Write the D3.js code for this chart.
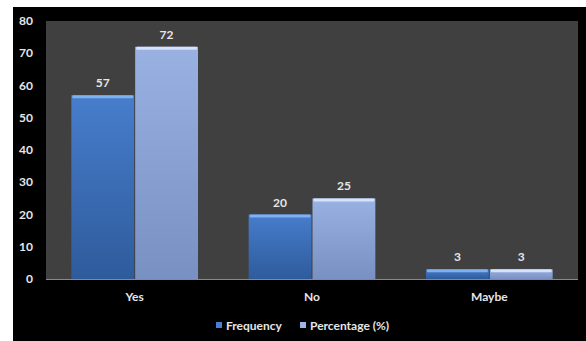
<!DOCTYPE html>
<html>
<head>
<meta charset="utf-8">
<script src="https://cdn.jsdelivr.net/npm/d3@7"></script>
<style>
  html, body { margin: 0; padding: 0; background: #ffffff; }
  svg { display: block; }
  text { font-family: Lato, "Open Sans", sans-serif; font-weight: bold; fill: #e6e6e6; }
</style>
</head>
<body>
<svg id="chart" width="586" height="341"></svg>
<script>
// Survey responses
const categories = ["Yes", "No", "Maybe"];
const seriesNames = ["Frequency", "Percentage (%)"];
const frequency = [57, 20, 3];
const percentage = [72, 25, 3];
const yTicks = [0, 10, 20, 30, 40, 50, 60, 70, 80];

const rows = categories.map((c, i) => ({ category: c, values: [frequency[i], percentage[i]] }));

const svg = d3.select("#chart");
const W = 586, H = 341;

// outer black frame
svg.append("rect").attr("x", 13).attr("y", 7).attr("width", W - 13).attr("height", H - 7).attr("fill", "#000");

const plot = { left: 46, right: 578, top: 21, bottom: 279 };

const x0 = d3.scaleBand().domain(categories).range([plot.left, plot.right]).paddingInner(0.28).paddingOuter(0.14);
const x1 = d3.scaleBand().domain(seriesNames).range([0, x0.bandwidth()]).padding(0);
const y = d3.scaleLinear().domain([0, 80]).range([plot.bottom, plot.top]);

const defs = svg.append("defs");
const grads = [
  { id: "gFreq", stops: [["0%", "#477dcc"], ["100%", "#2e5b9c"]] },
  { id: "gPct", stops: [["0%", "#9ab2e2"], ["100%", "#7890c2"]] }
];
grads.forEach(g => {
  const lg = defs.append("linearGradient").attr("id", g.id).attr("x1", 0).attr("y1", 0).attr("x2", 0).attr("y2", 1);
  g.stops.forEach(s => lg.append("stop").attr("offset", s[0]).attr("stop-color", s[1]));
});
const topColors = ["#7fb0f0", "#d4e2fb"];
const fills = ["url(#gFreq)", "url(#gPct)"];

// plot background
svg.append("rect")
  .attr("x", plot.left).attr("y", plot.top)
  .attr("width", plot.right - plot.left).attr("height", plot.bottom - plot.top)
  .attr("fill", "#404040");

// y axis labels
svg.append("g").selectAll("text").data(yTicks).join("text")
  .attr("x", 33).attr("y", d => y(d)).attr("dy", "0.35em")
  .attr("text-anchor", "end").attr("font-size", 12).text(d => d);

// bars
const groups = svg.append("g").selectAll("g").data(rows).join("g")
  .attr("transform", d => `translate(${x0(d.category)},0)`);

groups.each(function(d) {
  const g = d3.select(this);
  d.values.forEach((v, i) => {
    const bx = x1(seriesNames[i]);
    const bw = x1.bandwidth();
    const by = y(v);
    const bh = y(0) - y(v);
    g.append("rect").attr("x", bx + 0.5).attr("y", by).attr("width", bw - 1).attr("height", bh)
      .attr("fill", fills[i]);
    // bevel highlight at the top edge
    g.append("rect").attr("x", bx + 1.5).attr("y", by).attr("width", bw - 3).attr("height", Math.min(3, bh))
      .attr("fill", topColors[i]).attr("rx", 1);
    // value label
    g.append("text").attr("x", bx + bw / 2).attr("y", by - 8)
      .attr("text-anchor", "middle").attr("font-size", 12).text(v);
  });
});

// x axis line
svg.append("line").attr("x1", plot.left).attr("x2", plot.right)
  .attr("y1", plot.bottom + 0.5).attr("y2", plot.bottom + 0.5)
  .attr("stroke", "#8a8a8a").attr("stroke-width", 1);

// category labels
svg.append("g").selectAll("text").data(categories).join("text")
  .attr("x", d => x0(d) + x0.bandwidth() / 2).attr("y", 301)
  .attr("text-anchor", "middle").attr("font-size", 12).text(d => d);

// legend
const legend = svg.append("g");
const legendItems = [
  { name: seriesNames[0], color: "#4a7fd0", x: 216 },
  { name: seriesNames[1], color: "#9db4e4", x: 300 }
];
legendItems.forEach(it => {
  legend.append("rect").attr("x", it.x).attr("y", 322).attr("width", 6).attr("height", 6).attr("fill", it.color);
  legend.append("text").attr("x", it.x + 10).attr("y", 329.5).attr("font-size", 12).text(it.name);
});
</script>
</body>
</html>
